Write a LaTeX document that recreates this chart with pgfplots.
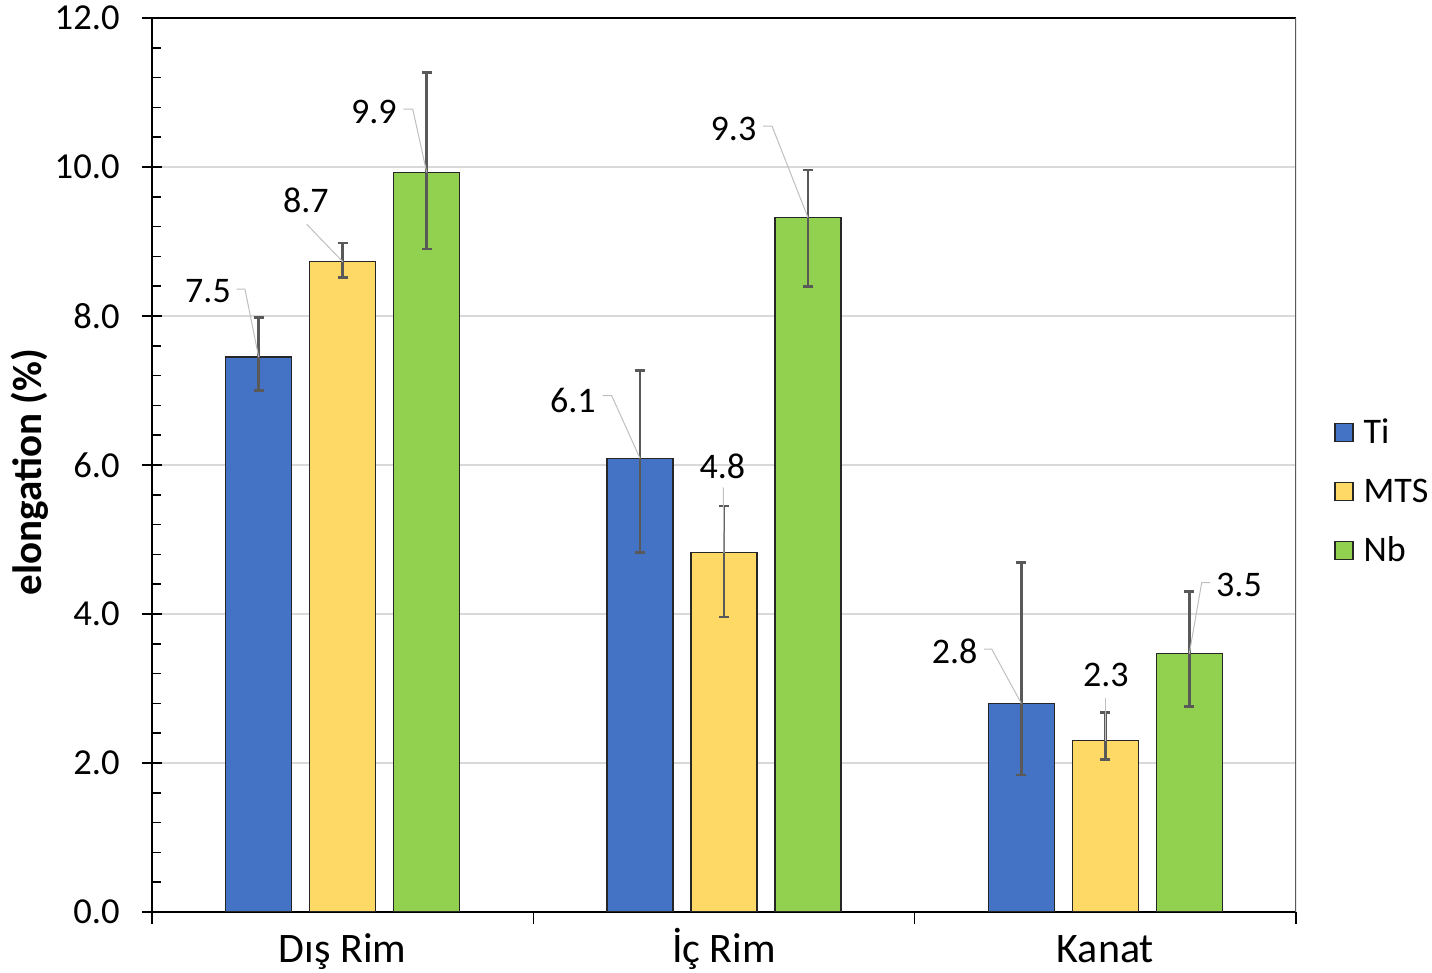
\documentclass[border=0pt]{standalone}
\usepackage{pgfplots}
\pgfplotsset{compat=1.18}
\usepackage{pgfplotstable}
\usepackage{fontspec}
\setmainfont{Carlito}
\definecolor{cTi}{HTML}{4472C4}
\definecolor{cMTS}{HTML}{FFD966}
\definecolor{cNb}{HTML}{92D050}
\definecolor{errc}{HTML}{595959}
\definecolor{gridc}{HTML}{D9D9D9}
\definecolor{leadc}{HTML}{BFBFBF}
\pgfplotstableread{
x y ep em
0 7.45 0.53 0.45
1 6.09 1.18 1.26
2 2.80 1.89 0.96
}\ti
\pgfplotstableread{
x y ep em
0 8.73 0.25 0.21
1 4.82 0.63 0.86
2 2.30 0.38 0.25
}\mts
\pgfplotstableread{
x y ep em
0 9.93 1.34 1.03
1 9.32 0.64 0.92
2 3.47 0.83 0.71
}\nb
\begin{document}
\begin{tikzpicture}
\path[use as bounding box] (0,0) rectangle (716pt,486.5pt);
\begin{axis}[
  at={(76pt,30.5pt)}, anchor=south west,
  width=572pt, height=447pt, scale only axis,
  ybar=9pt, bar width=33pt,
  xmin=-0.5, xmax=2.5, ymin=0, ymax=12,
  axis x line*=bottom, axis y line*=left,
  axis line style={-, black, line width=0.75pt},
  xtick={-0.5,0.5,1.5,2.5}, xticklabels={},
  extra x ticks={0,1,2}, extra x tick labels={Dış Rim,İç Rim,Kanat},
  extra x tick style={major tick length=0pt, tick style={draw=none}},
  xticklabel style={font=\fontsize{21}{25}\selectfont, inner sep=0pt, text height=13.5pt, anchor=north, yshift=-11.5pt},
  ytick={0,2,...,12}, minor y tick num=4,
  tick align=center, major tick length=10pt, minor tick length=4.5pt,
  xtick style={/pgfplots/major tick length=6pt, yshift=-3pt},
  tick style={black, line width=0.75pt},
  minor tick style={xshift=2.25pt},
  ymajorgrids, major grid style={gridc, line width=0.75pt},
  yticklabel style={font=\fontsize{18.3}{22}\selectfont, inner sep=0pt, anchor=east, xshift=-11pt},
  /pgf/number format/.cd, fixed, fixed zerofill, precision=1, assume math mode=true,
  /pgfplots/.cd,
  ylabel={elongation (\%)},
  ylabel style={font=\bfseries\fontsize{20.5}{24}\selectfont, at={(axis description cs:-0.1066,0.492)}, anchor=center, inner sep=0pt},
  legend style={at={(1.0332,0.4715)}, anchor=west, draw=none, fill=none, inner sep=0pt, row sep=17.9pt,
    font=\fontsize{18}{21}\selectfont, nodes={inner sep=0pt, text height=11.6pt, text depth=0pt},
    /tikz/every odd column/.append style={column sep=5pt}},
  legend cell align=left,
]
\addplot[fill=cTi, draw=black!85, line width=0.6pt,
  legend image code/.code={\draw[fill=cTi, draw=black!85, line width=0.6pt] (0pt,-5.2pt) rectangle (9pt,3.8pt);},
  error bars/.cd, y dir=both, y explicit, error mark=-,
  error bar style={errc, line width=1.4pt},
  error mark options={errc, rotate=90, mark size=2.5pt, line width=1.4pt}]
  table[x=x, y=y, y error plus=ep, y error minus=em]{\ti};
\addlegendentry{Ti}
\addplot[fill=cMTS, draw=black!85, line width=0.6pt,
  legend image code/.code={\draw[fill=cMTS, draw=black!85, line width=0.6pt] (0pt,-5.2pt) rectangle (9pt,3.8pt);},
  error bars/.cd, y dir=both, y explicit, error mark=-,
  error bar style={errc, line width=1.4pt},
  error mark options={errc, rotate=90, mark size=2.5pt, line width=1.4pt}]
  table[x=x, y=y, y error plus=ep, y error minus=em]{\mts};
\addlegendentry{MTS}
\addplot[fill=cNb, draw=black!85, line width=0.6pt,
  legend image code/.code={\draw[fill=cNb, draw=black!85, line width=0.6pt] (0pt,-5.2pt) rectangle (9pt,3.8pt);},
  error bars/.cd, y dir=both, y explicit, error mark=-,
  error bar style={errc, line width=1.4pt},
  error mark options={errc, rotate=90, mark size=2.5pt, line width=1.4pt}]
  table[x=x, y=y, y error plus=ep, y error minus=em]{\nb};
\addlegendentry{Nb}
% frame
\draw[black, line width=0.75pt] (rel axis cs:0,1) -- (rel axis cs:1,1);
\draw[errc, line width=1pt] (rel axis cs:1,1) -- (rel axis cs:1,0) -- ++(0,-6pt);
% leader lines
\draw[leadc, line width=0.5pt] (axis cs:-0.278,8.359) -- (axis cs:-0.2562,8.359) -- (axis cs:-0.2203,7.45);
\draw[leadc, line width=0.5pt] (axis cs:-0.0943,9.231) -- (axis cs:0,8.73);
\draw[leadc, line width=0.5pt] (axis cs:0.159,10.778) -- (axis cs:0.1837,10.778) -- (axis cs:0.2203,9.93);
\draw[leadc, line width=0.5pt] (axis cs:0.6819,6.930) -- (axis cs:0.7055,6.930) -- (axis cs:0.7797,6.09);
\draw[leadc, line width=0.5pt] (axis cs:0.998,5.70) -- (axis cs:1.0,4.82);
\draw[leadc, line width=0.5pt] (axis cs:1.1023,10.55) -- (axis cs:1.1259,10.55) -- (axis cs:1.2203,9.32);
\draw[leadc, line width=0.5pt] (axis cs:1.6818,3.530) -- (axis cs:1.702,3.530) -- (axis cs:1.7797,2.80);
\draw[leadc, line width=0.5pt] (axis cs:2.0,2.868) -- (axis cs:2.0,2.30);
\draw[leadc, line width=0.5pt] (axis cs:2.2745,4.420) -- (axis cs:2.2527,4.420) -- (axis cs:2.2203,3.47);
% data labels
\begin{scope}[every node/.style={font=\fontsize{18}{21}\selectfont, inner sep=0pt}]
\node at (axis cs:-0.3531,8.332) {7.5};
\node at (axis cs:-0.0967,9.557) {8.7};
\node at (axis cs:0.0817,10.742) {9.9};
\node at (axis cs:0.6035,6.872) {6.1};
\node at (axis cs:0.9956,5.987) {4.8};
\node at (axis cs:1.0249,10.517) {9.3};
\node at (axis cs:1.605,3.499) {2.8};
\node at (axis cs:2.0013,3.181) {2.3};
\node at (axis cs:2.3506,4.389) {3.5};
\end{scope}
\end{axis}
\end{tikzpicture}
\end{document}
